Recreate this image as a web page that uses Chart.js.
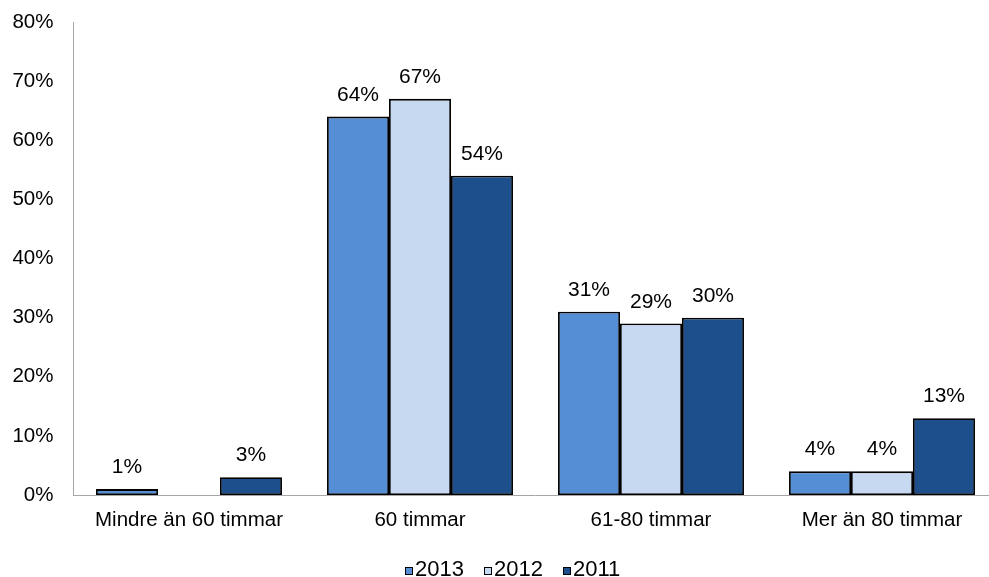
<!DOCTYPE html>
<html>
<head>
<meta charset="utf-8">
<script src="https://cdn.jsdelivr.net/npm/chart.js@4/dist/chart.umd.min.js"></script>
<style>
  html, body { margin: 0; padding: 0; background: #fff; overflow: hidden; }
  #wrap { position: relative; width: 1000px; height: 577px; }
  #legend {
    position: absolute; left: 405px; top: 558px;
    font: 22px Arial, "Liberation Sans", sans-serif; color: #000;
    line-height: 21px; white-space: nowrap;
  }
  #legend span.item { display: inline-block; margin-right: 20px; }
  #legend span.box {
    display: inline-block; width: 6px; height: 6px; border: 1px solid #000;
    margin-right: 2px; vertical-align: 1px;
  }
</style>
</head>
<body>
<div id="wrap">
  <canvas id="chart"></canvas>
  <div id="legend"></div>
</div>
<script>
// kategorier och serier
const categories = ['Mindre än 60 timmar', '60 timmar', '61-80 timmar', 'Mer än 80 timmar'];
const seriesNames = ['2013', '2012', '2011'];
const values2013 = [1, 64, 31, 4];
const values2012 = [null, 67, 29, 4];
const values2011 = [3, 54, 30, 13];
const yTickLabels = ['0%', '10%', '20%', '30%', '40%', '50%', '60%', '70%', '80%'];

const colors = ['#558ED5', '#C6D9F1', '#1C4F8C'];
const font = 'Arial, "Liberation Sans", sans-serif';

// etiketter ovanför staplarna
const barLabels = {
    id: 'barLabels',
    afterDatasetsDraw(chart) {
        const ctx = chart.ctx;
        ctx.save();
        ctx.font = '21px ' + font;
        ctx.fillStyle = '#000';
        ctx.textAlign = 'center';
        ctx.textBaseline = 'alphabetic';
        chart.data.datasets.forEach((ds, i) => {
            const meta = chart.getDatasetMeta(i);
            meta.data.forEach((bar, j) => {
                const v = ds.data[j];
                if (v === null || v === undefined) return;
                ctx.fillText(v + '%', bar.x, bar.y - 16);
            });
        });
        ctx.restore();
    }
};

const ctx = document.getElementById('chart').getContext('2d');
new Chart(ctx, {
    type: 'bar',
    data: {
        labels: categories,
        datasets: [
            { label: seriesNames[0], data: values2013, backgroundColor: colors[0] },
            { label: seriesNames[1], data: values2012, backgroundColor: colors[1] },
            { label: seriesNames[2], data: values2011, backgroundColor: colors[2] }
        ].map(d => Object.assign(d, {
            borderColor: '#000',
            borderWidth: 1.8,
            borderSkipped: false,
            categoryPercentage: 0.805,
            barPercentage: 1
        }))
    },
    options: {
        responsive: true,
        maintainAspectRatio: false,
        animation: false,
        layout: { padding: { left: 0, right: 2.5, top: 22, bottom: 0 } },
        plugins: {
            legend: { display: false },
            tooltip: { enabled: false }
        },
        scales: {
            x: {
                grid: { display: false, drawTicks: false },
                border: { display: true, color: '#A6A6A6', width: 1 },
                ticks: { color: '#000', font: { size: 20.5, family: font }, padding: 13, maxRotation: 0 },
                afterFit: s => { s.height = 82; s.paddingLeft = 0; s.paddingRight = 0; }
            },
            y: {
                min: 0,
                max: 80,
                grid: { display: false, drawTicks: false },
                border: { display: true, color: '#A6A6A6', width: 1 },
                ticks: {
                    stepSize: 10,
                    color: '#000',
                    font: { size: 20.5, family: font },
                    padding: 20,
                    callback: (v, i) => yTickLabels[i]
                },
                afterFit: s => { s.width = 73.5; s.paddingTop = 0; s.paddingBottom = 0; }
            }
        }
    },
    plugins: [barLabels]
});

// förklaring
const legend = document.getElementById('legend');
seriesNames.forEach((name, i) => {
    const item = document.createElement('span');
    item.className = 'item';
    const box = document.createElement('span');
    box.className = 'box';
    box.style.background = colors[i];
    item.appendChild(box);
    item.appendChild(document.createTextNode(name));
    legend.appendChild(item);
});
</script>
</body>
</html>
